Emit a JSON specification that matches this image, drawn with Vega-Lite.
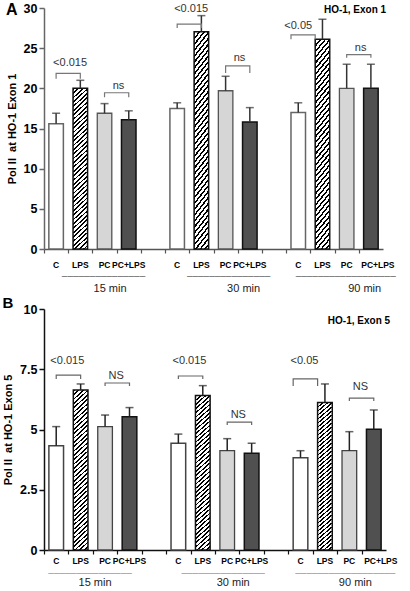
{
"$schema":"https://vega.github.io/schema/vega-lite/v6.json",
"padding":2,
"spacing":3,
"config":{"view":{"stroke":null}},
"datasets":{
"barsA":[
{"key":"15|C","cond":"C","value":15.6,"upper":16.9},
{"key":"15|LPS","cond":"LPS","value":20.0,"upper":21.0},
{"key":"15|PC","cond":"PC","value":16.9,"upper":18.1},
{"key":"15|PC+LPS","cond":"PC+LPS","value":16.1,"upper":17.2},
{"key":"30|C","cond":"C","value":17.5,"upper":18.2},
{"key":"30|LPS","cond":"LPS","value":27.05,"upper":29.05},
{"key":"30|PC","cond":"PC","value":19.7,"upper":21.5},
{"key":"30|PC+LPS","cond":"PC+LPS","value":15.8,"upper":17.6},
{"key":"90|C","cond":"C","value":17.0,"upper":18.2},
{"key":"90|LPS","cond":"LPS","value":26.1,"upper":28.6},
{"key":"90|PC","cond":"PC","value":20.0,"upper":23.0},
{"key":"90|PC+LPS","cond":"PC+LPS","value":20.0,"upper":23.0}
],
"barsB":[
{"key":"15|C","cond":"C","value":4.33,"upper":5.12},
{"key":"15|LPS","cond":"LPS","value":6.64,"upper":6.89},
{"key":"15|PC","cond":"PC","value":5.12,"upper":5.6},
{"key":"15|PC+LPS","cond":"PC+LPS","value":5.53,"upper":5.91},
{"key":"30|C","cond":"C","value":4.43,"upper":4.81},
{"key":"30|LPS","cond":"LPS","value":6.41,"upper":6.82},
{"key":"30|PC","cond":"PC","value":4.12,"upper":4.62},
{"key":"30|PC+LPS","cond":"PC+LPS","value":4.01,"upper":4.43},
{"key":"90|C","cond":"C","value":3.83,"upper":4.12},
{"key":"90|LPS","cond":"LPS","value":6.12,"upper":6.89},
{"key":"90|PC","cond":"PC","value":4.12,"upper":4.91},
{"key":"90|PC+LPS","cond":"PC+LPS","value":5.01,"upper":5.81}
],
"brA":[
{"b":"15s","key":"15|C","value":21.2,"o":1},{"b":"15s","key":"15|C","value":21.85,"o":2},{"b":"15s","key":"15|LPS","value":21.85,"o":3},{"b":"15s","key":"15|LPS","value":21.2,"o":4},
{"b":"15n","key":"15|PC","value":18.9,"o":1},{"b":"15n","key":"15|PC","value":19.45,"o":2},{"b":"15n","key":"15|PC+LPS","value":19.45,"o":3},{"b":"15n","key":"15|PC+LPS","value":18.9,"o":4},
{"b":"30s","key":"30|C","value":27.5,"o":1},{"b":"30s","key":"30|C","value":28.0,"o":2},{"b":"30s","key":"30|LPS","value":28.0,"o":3},{"b":"30s","key":"30|LPS","value":27.5,"o":4},
{"b":"30n","key":"30|PC","value":21.9,"o":1},{"b":"30n","key":"30|PC","value":22.8,"o":2},{"b":"30n","key":"30|PC+LPS","value":22.8,"o":3},{"b":"30n","key":"30|PC+LPS","value":21.9,"o":4},
{"b":"90s","key":"90|C","value":26.1,"o":1},{"b":"90s","key":"90|C","value":26.65,"o":2},{"b":"90s","key":"90|LPS","value":26.65,"o":3},{"b":"90s","key":"90|LPS","value":26.1,"o":4},
{"b":"90n","key":"90|PC","value":23.8,"o":1},{"b":"90n","key":"90|PC","value":24.2,"o":2},{"b":"90n","key":"90|PC+LPS","value":24.2,"o":3},{"b":"90n","key":"90|PC+LPS","value":23.8,"o":4}
],
"brB":[
{"b":"15s","key":"15|C","value":7.1,"o":1},{"b":"15s","key":"15|C","value":7.26,"o":2},{"b":"15s","key":"15|LPS","value":7.26,"o":3},{"b":"15s","key":"15|LPS","value":7.1,"o":4},
{"b":"15n","key":"15|PC","value":6.8,"o":1},{"b":"15n","key":"15|PC","value":6.93,"o":2},{"b":"15n","key":"15|PC+LPS","value":6.93,"o":3},{"b":"15n","key":"15|PC+LPS","value":6.8,"o":4},
{"b":"30s","key":"30|C","value":7.1,"o":1},{"b":"30s","key":"30|C","value":7.22,"o":2},{"b":"30s","key":"30|LPS","value":7.22,"o":3},{"b":"30s","key":"30|LPS","value":7.1,"o":4},
{"b":"30n","key":"30|PC","value":5.19,"o":1},{"b":"30n","key":"30|PC","value":5.31,"o":2},{"b":"30n","key":"30|PC+LPS","value":5.31,"o":3},{"b":"30n","key":"30|PC+LPS","value":5.19,"o":4},
{"b":"90s","key":"90|C","value":6.8,"o":1},{"b":"90s","key":"90|C","value":7.1,"o":2},{"b":"90s","key":"90|LPS","value":7.1,"o":3},{"b":"90s","key":"90|LPS","value":6.8,"o":4},
{"b":"90n","key":"90|PC","value":6.18,"o":1},{"b":"90n","key":"90|PC","value":6.3,"o":2},{"b":"90n","key":"90|PC+LPS","value":6.3,"o":3},{"b":"90n","key":"90|PC+LPS","value":6.18,"o":4}
],
"txtA":[
{"key":"15|LPS","value":23.2,"t":"<0.015"},
{"key":"15|PC+LPS","value":20.3,"t":"ns"},
{"key":"30|LPS","value":29.9,"t":"<0.015"},
{"key":"30|PC+LPS","value":23.8,"t":"ns"},
{"key":"90|C","value":27.8,"t":"<0.05"},
{"key":"90|PC+LPS","value":25.0,"t":"ns"},
{"key":"90|PC+LPS","value":29.75,"t":"HO-1, Exon 1"}
],
"txtB":[
{"key":"15|LPS","value":7.84,"t":"<0.015"},
{"key":"15|PC+LPS","value":7.22,"t":"NS"},
{"key":"30|LPS","value":7.84,"t":"<0.015"},
{"key":"30|PC+LPS","value":5.6,"t":"NS"},
{"key":"90|C","value":7.84,"t":"<0.05"},
{"key":"90|PC+LPS","value":6.76,"t":"NS"},
{"key":"90|PC+LPS","value":9.49,"t":"HO-1, Exon 5"}
]
},
"vconcat":[
{
"width":339,"height":241,
"title":{"text":"A","anchor":"start","fontSize":16,"fontWeight":"bold","color":"#000","offset":-16},
"resolve":{"axis":{"x":"independent"}},
"encoding":{
"x":{"field":"key","type":"nominal","scale":{"domain":["15|C","15|LPS","15|PC","15|PC+LPS","g1","30|C","30|LPS","30|PC","30|PC+LPS","g2","90|C","90|LPS","90|PC","90|PC+LPS"],"paddingInner":0.4,"paddingOuter":0.2},"axis":null},
"y":{"field":"value","type":"quantitative","scale":{"domain":[0,30]},"axis":{"title":"Pol II\u00a0 at HO-1 Exon 1","values":[0,5,10,15,20,25,30],"grid":false,"labelFontWeight":"bold","labelFontSize":12.5,"labelColor":"#000","labelPadding":2,"tickSize":5,"tickColor":"#666","tickWidth":1.5,"domainColor":"#666","domainWidth":1.5,"titleFontSize":11,"titleFontWeight":"bold","titleColor":"#000","titlePadding":6}}
},
"layer":[
{"data":{"name":"barsA"},"transform":[{"filter":"datum.cond=='C'"}],"mark":{"type":"bar","fill":"#fff","stroke":"#666","strokeWidth":1.5},"encoding":{}},
{"data":{"name":"barsA"},"transform":[{"filter":"datum.cond=='LPS'"}],"mark":{"type":"bar","stroke":"#111","strokeWidth":1.5,"fill":{"gradient":"linear","x1":0,"y1":0,"x2":0.0916,"y2":1.077,"stops":[
{"offset":0,"color":"#000"},{"offset":0.01,"color":"#000"},{"offset":0.01,"color":"#fff"},{"offset":0.025,"color":"#fff"},
{"offset":0.025,"color":"#000"},{"offset":0.035,"color":"#000"},{"offset":0.035,"color":"#fff"},{"offset":0.05,"color":"#fff"},
{"offset":0.05,"color":"#000"},{"offset":0.06,"color":"#000"},{"offset":0.06,"color":"#fff"},{"offset":0.075,"color":"#fff"},
{"offset":0.075,"color":"#000"},{"offset":0.085,"color":"#000"},{"offset":0.085,"color":"#fff"},{"offset":0.1,"color":"#fff"},
{"offset":0.1,"color":"#000"},{"offset":0.11,"color":"#000"},{"offset":0.11,"color":"#fff"},{"offset":0.125,"color":"#fff"},
{"offset":0.125,"color":"#000"},{"offset":0.135,"color":"#000"},{"offset":0.135,"color":"#fff"},{"offset":0.15,"color":"#fff"},
{"offset":0.15,"color":"#000"},{"offset":0.16,"color":"#000"},{"offset":0.16,"color":"#fff"},{"offset":0.175,"color":"#fff"},
{"offset":0.175,"color":"#000"},{"offset":0.185,"color":"#000"},{"offset":0.185,"color":"#fff"},{"offset":0.2,"color":"#fff"},
{"offset":0.2,"color":"#000"},{"offset":0.21,"color":"#000"},{"offset":0.21,"color":"#fff"},{"offset":0.225,"color":"#fff"},
{"offset":0.225,"color":"#000"},{"offset":0.235,"color":"#000"},{"offset":0.235,"color":"#fff"},{"offset":0.25,"color":"#fff"},
{"offset":0.25,"color":"#000"},{"offset":0.26,"color":"#000"},{"offset":0.26,"color":"#fff"},{"offset":0.275,"color":"#fff"},
{"offset":0.275,"color":"#000"},{"offset":0.285,"color":"#000"},{"offset":0.285,"color":"#fff"},{"offset":0.3,"color":"#fff"},
{"offset":0.3,"color":"#000"},{"offset":0.31,"color":"#000"},{"offset":0.31,"color":"#fff"},{"offset":0.325,"color":"#fff"},
{"offset":0.325,"color":"#000"},{"offset":0.335,"color":"#000"},{"offset":0.335,"color":"#fff"},{"offset":0.35,"color":"#fff"},
{"offset":0.35,"color":"#000"},{"offset":0.36,"color":"#000"},{"offset":0.36,"color":"#fff"},{"offset":0.375,"color":"#fff"},
{"offset":0.375,"color":"#000"},{"offset":0.385,"color":"#000"},{"offset":0.385,"color":"#fff"},{"offset":0.4,"color":"#fff"},
{"offset":0.4,"color":"#000"},{"offset":0.41,"color":"#000"},{"offset":0.41,"color":"#fff"},{"offset":0.425,"color":"#fff"},
{"offset":0.425,"color":"#000"},{"offset":0.435,"color":"#000"},{"offset":0.435,"color":"#fff"},{"offset":0.45,"color":"#fff"},
{"offset":0.45,"color":"#000"},{"offset":0.46,"color":"#000"},{"offset":0.46,"color":"#fff"},{"offset":0.475,"color":"#fff"},
{"offset":0.475,"color":"#000"},{"offset":0.485,"color":"#000"},{"offset":0.485,"color":"#fff"},{"offset":0.5,"color":"#fff"},
{"offset":0.5,"color":"#000"},{"offset":0.51,"color":"#000"},{"offset":0.51,"color":"#fff"},{"offset":0.525,"color":"#fff"},
{"offset":0.525,"color":"#000"},{"offset":0.535,"color":"#000"},{"offset":0.535,"color":"#fff"},{"offset":0.55,"color":"#fff"},
{"offset":0.55,"color":"#000"},{"offset":0.56,"color":"#000"},{"offset":0.56,"color":"#fff"},{"offset":0.575,"color":"#fff"},
{"offset":0.575,"color":"#000"},{"offset":0.585,"color":"#000"},{"offset":0.585,"color":"#fff"},{"offset":0.6,"color":"#fff"},
{"offset":0.6,"color":"#000"},{"offset":0.61,"color":"#000"},{"offset":0.61,"color":"#fff"},{"offset":0.625,"color":"#fff"},
{"offset":0.625,"color":"#000"},{"offset":0.635,"color":"#000"},{"offset":0.635,"color":"#fff"},{"offset":0.65,"color":"#fff"},
{"offset":0.65,"color":"#000"},{"offset":0.66,"color":"#000"},{"offset":0.66,"color":"#fff"},{"offset":0.675,"color":"#fff"},
{"offset":0.675,"color":"#000"},{"offset":0.685,"color":"#000"},{"offset":0.685,"color":"#fff"},{"offset":0.7,"color":"#fff"},
{"offset":0.7,"color":"#000"},{"offset":0.71,"color":"#000"},{"offset":0.71,"color":"#fff"},{"offset":0.725,"color":"#fff"},
{"offset":0.725,"color":"#000"},{"offset":0.735,"color":"#000"},{"offset":0.735,"color":"#fff"},{"offset":0.75,"color":"#fff"},
{"offset":0.75,"color":"#000"},{"offset":0.76,"color":"#000"},{"offset":0.76,"color":"#fff"},{"offset":0.775,"color":"#fff"},
{"offset":0.775,"color":"#000"},{"offset":0.785,"color":"#000"},{"offset":0.785,"color":"#fff"},{"offset":0.8,"color":"#fff"},
{"offset":0.8,"color":"#000"},{"offset":0.81,"color":"#000"},{"offset":0.81,"color":"#fff"},{"offset":0.825,"color":"#fff"},
{"offset":0.825,"color":"#000"},{"offset":0.835,"color":"#000"},{"offset":0.835,"color":"#fff"},{"offset":0.85,"color":"#fff"},
{"offset":0.85,"color":"#000"},{"offset":0.86,"color":"#000"},{"offset":0.86,"color":"#fff"},{"offset":0.875,"color":"#fff"},
{"offset":0.875,"color":"#000"},{"offset":0.885,"color":"#000"},{"offset":0.885,"color":"#fff"},{"offset":0.9,"color":"#fff"},
{"offset":0.9,"color":"#000"},{"offset":0.91,"color":"#000"},{"offset":0.91,"color":"#fff"},{"offset":0.925,"color":"#fff"},
{"offset":0.925,"color":"#000"},{"offset":0.935,"color":"#000"},{"offset":0.935,"color":"#fff"},{"offset":0.95,"color":"#fff"},
{"offset":0.95,"color":"#000"},{"offset":0.96,"color":"#000"},{"offset":0.96,"color":"#fff"},{"offset":0.975,"color":"#fff"},
{"offset":0.975,"color":"#000"},{"offset":0.985,"color":"#000"},{"offset":0.985,"color":"#fff"},{"offset":1,"color":"#fff"}
]}},"encoding":{}},
{"data":{"name":"barsA"},"transform":[{"filter":"datum.cond=='PC'"}],"mark":{"type":"bar","fill":"#d6d6d6","stroke":"#555","strokeWidth":1.3},"encoding":{}},
{"data":{"name":"barsA"},"transform":[{"filter":"datum.cond=='PC+LPS'"}],"mark":{"type":"bar","fill":"#505050","stroke":"#111","strokeWidth":1.5},"encoding":{}},
{"data":{"name":"barsA"},"mark":{"type":"rule","color":"#333","strokeWidth":1.5},"encoding":{"y2":{"field":"upper"}}},
{"data":{"name":"barsA"},"mark":{"type":"tick","color":"#333","thickness":1.5,"size":8},"encoding":{"y":{"field":"upper","type":"quantitative","scale":{"domain":[0,30]},"axis":{"title":"Pol II\u00a0 at HO-1 Exon 1","values":[0,5,10,15,20,25,30],"grid":false,"labelFontWeight":"bold","labelFontSize":12.5,"labelColor":"#000","labelPadding":2,"tickSize":5,"tickColor":"#666","tickWidth":1.5,"domainColor":"#666","domainWidth":1.5,"titleFontSize":11,"titleFontWeight":"bold","titleColor":"#000","titlePadding":6}}}},
{"data":{"name":"brA"},"transform":[{"filter":"datum.b!='90s'"}],"mark":{"type":"line","color":"#777","strokeWidth":1.2},"encoding":{"detail":{"field":"b"},"order":{"field":"o","type":"quantitative"}}},
{"data":{"name":"brA"},"transform":[{"filter":"datum.b=='90s'"}],"mark":{"type":"line","color":"#777","strokeWidth":1.2},"encoding":{"x":{"field":"key","type":"nominal","bandPosition":0,"scale":{"domain":["15|C","15|LPS","15|PC","15|PC+LPS","g1","30|C","30|LPS","30|PC","30|PC+LPS","g2","90|C","90|LPS","90|PC","90|PC+LPS"],"paddingInner":0.4,"paddingOuter":0.2},"axis":null},"detail":{"field":"b"},"order":{"field":"o","type":"quantitative"}}},
{"data":{"name":"txtA"},"transform":[{"filter":"datum.key!='90|C' && datum.t!='HO-1, Exon 1'"}],"mark":{"type":"text","fontSize":11,"color":"#333","baseline":"middle","dx":-3},"encoding":{"x":{"field":"key","type":"nominal","bandPosition":0,"scale":{"domain":["15|C","15|LPS","15|PC","15|PC+LPS","g1","30|C","30|LPS","30|PC","30|PC+LPS","g2","90|C","90|LPS","90|PC","90|PC+LPS"],"paddingInner":0.4,"paddingOuter":0.2},"axis":null},"text":{"field":"t"}}},
{"data":{"name":"txtA"},"transform":[{"filter":"datum.key=='90|C'"}],"mark":{"type":"text","fontSize":11,"color":"#333","baseline":"middle"},"encoding":{"text":{"field":"t"}}},
{"data":{"name":"txtA"},"transform":[{"filter":"datum.t=='HO-1, Exon 1'"}],"mark":{"type":"text","fontSize":10,"fontWeight":"bold","color":"#000","baseline":"middle","align":"right","dx":8},"encoding":{"x":{"field":"key","type":"nominal","bandPosition":1,"scale":{"domain":["15|C","15|LPS","15|PC","15|PC+LPS","g1","30|C","30|LPS","30|PC","30|PC+LPS","g2","90|C","90|LPS","90|PC","90|PC+LPS"],"paddingInner":0.4,"paddingOuter":0.2},"axis":null},"text":{"field":"t"}}},
{"data":{"name":"barsA"},"mark":{"type":"point","opacity":0},"encoding":{"x":{"field":"key","type":"nominal","scale":{"domain":["15|C","15|LPS","15|PC","15|PC+LPS","g1","30|C","30|LPS","30|PC","30|PC+LPS","g2","90|C","90|LPS","90|PC","90|PC+LPS"],"paddingInner":0.4,"paddingOuter":0.2},"axis":{"orient":"bottom","title":null,"labels":false,"domain":false,"ticks":true,"tickOffset":-12.1,"tickSize":4,"tickColor":"#555","tickWidth":1.2}}}},
{"data":{"name":"barsA"},"mark":{"type":"point","opacity":0},"encoding":{"x":{"field":"key","type":"nominal","scale":{"domain":["15|C","15|LPS","15|PC","15|PC+LPS","g1","30|C","30|LPS","30|PC","30|PC+LPS","g2","90|C","90|LPS","90|PC","90|PC+LPS"],"paddingInner":0.4,"paddingOuter":0.2},"axis":{"orient":"bottom","title":null,"ticks":false,"tickSize":0,"labelExpr":"indexof(datum.value,'|')>0 ? substring(datum.value, indexof(datum.value,'|')+1) : ''","labelAngle":0,"labelFontSize":8.5,"labelFontWeight":"bold","labelColor":"#000","labelPadding":11,"labelOverlap":false,"labelOffset":{"condition":{"test":"datum.value=='90|PC+LPS'","value":7},"value":0},"domainColor":"#555","domainWidth":1.5}}}},
{"data":{"name":"barsA"},"mark":{"type":"point","opacity":0},"encoding":{"x":{"field":"key","type":"nominal","scale":{"domain":["15|C","15|LPS","15|PC","15|PC+LPS","g1","30|C","30|LPS","30|PC","30|PC+LPS","g2","90|C","90|LPS","90|PC","90|PC+LPS"],"paddingInner":0.4,"paddingOuter":0.2},"axis":{"orient":"bottom","title":null,"ticks":false,"tickSize":0,"domain":false,"offset":21,"labelPadding":0,"labelAngle":0,"labelOverlap":false,"labelFontSize":10,"labelColor":"#666","labelExpr":"datum.value=='90|PC' ? '––––––––––––––––––' : (datum.value=='15|PC' || datum.value=='30|PC') ? '–––––––––––––––' : ''","labelOffset":{"condition":{"test":"datum.value=='30|PC'","value":3},"value":-1}}}}},
{"data":{"name":"barsA"},"mark":{"type":"point","opacity":0},"encoding":{"x":{"field":"key","type":"nominal","scale":{"domain":["15|C","15|LPS","15|PC","15|PC+LPS","g1","30|C","30|LPS","30|PC","30|PC+LPS","g2","90|C","90|LPS","90|PC","90|PC+LPS"],"paddingInner":0.4,"paddingOuter":0.2},"axis":{"orient":"bottom","title":null,"ticks":false,"tickSize":0,"domain":false,"offset":33,"labelPadding":0,"labelAngle":0,"labelOverlap":false,"labelFontSize":11,"labelColor":"#222","labelExpr":"datum.value=='15|PC' ? '15 min' : datum.value=='30|PC' ? '30 min' : datum.value=='90|PC' ? '90 min' : ''","labelOffset":{"condition":{"test":"datum.value=='15|PC'","value":5.5},"value":18}}}}}
]
},
{
"width":342,"height":241,
"title":{"text":"B","anchor":"start","fontSize":15,"fontWeight":"bold","color":"#000","offset":-8},
"resolve":{"axis":{"x":"independent"}},
"encoding":{
"x":{"field":"key","type":"nominal","scale":{"domain":["15|C","15|LPS","15|PC","15|PC+LPS","g1","30|C","30|LPS","30|PC","30|PC+LPS","g2","90|C","90|LPS","90|PC","90|PC+LPS"],"paddingInner":0.4,"paddingOuter":0.2},"axis":null},
"y":{"field":"value","type":"quantitative","scale":{"domain":[0,10]},"axis":{"title":"Pol II\u00a0 at HO-1 Exon 5","values":[0,2.5,5,7.5,10],"format":".1~f","grid":false,"labelFontWeight":"bold","labelFontSize":12.5,"labelColor":"#000","labelPadding":2,"tickSize":5,"tickColor":"#111","tickWidth":1.5,"domainColor":"#111","domainWidth":1.5,"titleFontSize":11,"titleFontWeight":"bold","titleColor":"#000","titlePadding":6}}
},
"layer":[
{"data":{"name":"barsB"},"transform":[{"filter":"datum.cond=='C'"}],"mark":{"type":"bar","fill":"#fff","stroke":"#444","strokeWidth":1.5},"encoding":{}},
{"data":{"name":"barsB"},"transform":[{"filter":"datum.cond=='LPS'"}],"mark":{"type":"bar","stroke":"#111","strokeWidth":1.5,"fill":{"gradient":"linear","x1":0,"y1":0,"x2":0.0916,"y2":1.077,"stops":[
{"offset":0,"color":"#000"},{"offset":0.01,"color":"#000"},{"offset":0.01,"color":"#fff"},{"offset":0.025,"color":"#fff"},
{"offset":0.025,"color":"#000"},{"offset":0.035,"color":"#000"},{"offset":0.035,"color":"#fff"},{"offset":0.05,"color":"#fff"},
{"offset":0.05,"color":"#000"},{"offset":0.06,"color":"#000"},{"offset":0.06,"color":"#fff"},{"offset":0.075,"color":"#fff"},
{"offset":0.075,"color":"#000"},{"offset":0.085,"color":"#000"},{"offset":0.085,"color":"#fff"},{"offset":0.1,"color":"#fff"},
{"offset":0.1,"color":"#000"},{"offset":0.11,"color":"#000"},{"offset":0.11,"color":"#fff"},{"offset":0.125,"color":"#fff"},
{"offset":0.125,"color":"#000"},{"offset":0.135,"color":"#000"},{"offset":0.135,"color":"#fff"},{"offset":0.15,"color":"#fff"},
{"offset":0.15,"color":"#000"},{"offset":0.16,"color":"#000"},{"offset":0.16,"color":"#fff"},{"offset":0.175,"color":"#fff"},
{"offset":0.175,"color":"#000"},{"offset":0.185,"color":"#000"},{"offset":0.185,"color":"#fff"},{"offset":0.2,"color":"#fff"},
{"offset":0.2,"color":"#000"},{"offset":0.21,"color":"#000"},{"offset":0.21,"color":"#fff"},{"offset":0.225,"color":"#fff"},
{"offset":0.225,"color":"#000"},{"offset":0.235,"color":"#000"},{"offset":0.235,"color":"#fff"},{"offset":0.25,"color":"#fff"},
{"offset":0.25,"color":"#000"},{"offset":0.26,"color":"#000"},{"offset":0.26,"color":"#fff"},{"offset":0.275,"color":"#fff"},
{"offset":0.275,"color":"#000"},{"offset":0.285,"color":"#000"},{"offset":0.285,"color":"#fff"},{"offset":0.3,"color":"#fff"},
{"offset":0.3,"color":"#000"},{"offset":0.31,"color":"#000"},{"offset":0.31,"color":"#fff"},{"offset":0.325,"color":"#fff"},
{"offset":0.325,"color":"#000"},{"offset":0.335,"color":"#000"},{"offset":0.335,"color":"#fff"},{"offset":0.35,"color":"#fff"},
{"offset":0.35,"color":"#000"},{"offset":0.36,"color":"#000"},{"offset":0.36,"color":"#fff"},{"offset":0.375,"color":"#fff"},
{"offset":0.375,"color":"#000"},{"offset":0.385,"color":"#000"},{"offset":0.385,"color":"#fff"},{"offset":0.4,"color":"#fff"},
{"offset":0.4,"color":"#000"},{"offset":0.41,"color":"#000"},{"offset":0.41,"color":"#fff"},{"offset":0.425,"color":"#fff"},
{"offset":0.425,"color":"#000"},{"offset":0.435,"color":"#000"},{"offset":0.435,"color":"#fff"},{"offset":0.45,"color":"#fff"},
{"offset":0.45,"color":"#000"},{"offset":0.46,"color":"#000"},{"offset":0.46,"color":"#fff"},{"offset":0.475,"color":"#fff"},
{"offset":0.475,"color":"#000"},{"offset":0.485,"color":"#000"},{"offset":0.485,"color":"#fff"},{"offset":0.5,"color":"#fff"},
{"offset":0.5,"color":"#000"},{"offset":0.51,"color":"#000"},{"offset":0.51,"color":"#fff"},{"offset":0.525,"color":"#fff"},
{"offset":0.525,"color":"#000"},{"offset":0.535,"color":"#000"},{"offset":0.535,"color":"#fff"},{"offset":0.55,"color":"#fff"},
{"offset":0.55,"color":"#000"},{"offset":0.56,"color":"#000"},{"offset":0.56,"color":"#fff"},{"offset":0.575,"color":"#fff"},
{"offset":0.575,"color":"#000"},{"offset":0.585,"color":"#000"},{"offset":0.585,"color":"#fff"},{"offset":0.6,"color":"#fff"},
{"offset":0.6,"color":"#000"},{"offset":0.61,"color":"#000"},{"offset":0.61,"color":"#fff"},{"offset":0.625,"color":"#fff"},
{"offset":0.625,"color":"#000"},{"offset":0.635,"color":"#000"},{"offset":0.635,"color":"#fff"},{"offset":0.65,"color":"#fff"},
{"offset":0.65,"color":"#000"},{"offset":0.66,"color":"#000"},{"offset":0.66,"color":"#fff"},{"offset":0.675,"color":"#fff"},
{"offset":0.675,"color":"#000"},{"offset":0.685,"color":"#000"},{"offset":0.685,"color":"#fff"},{"offset":0.7,"color":"#fff"},
{"offset":0.7,"color":"#000"},{"offset":0.71,"color":"#000"},{"offset":0.71,"color":"#fff"},{"offset":0.725,"color":"#fff"},
{"offset":0.725,"color":"#000"},{"offset":0.735,"color":"#000"},{"offset":0.735,"color":"#fff"},{"offset":0.75,"color":"#fff"},
{"offset":0.75,"color":"#000"},{"offset":0.76,"color":"#000"},{"offset":0.76,"color":"#fff"},{"offset":0.775,"color":"#fff"},
{"offset":0.775,"color":"#000"},{"offset":0.785,"color":"#000"},{"offset":0.785,"color":"#fff"},{"offset":0.8,"color":"#fff"},
{"offset":0.8,"color":"#000"},{"offset":0.81,"color":"#000"},{"offset":0.81,"color":"#fff"},{"offset":0.825,"color":"#fff"},
{"offset":0.825,"color":"#000"},{"offset":0.835,"color":"#000"},{"offset":0.835,"color":"#fff"},{"offset":0.85,"color":"#fff"},
{"offset":0.85,"color":"#000"},{"offset":0.86,"color":"#000"},{"offset":0.86,"color":"#fff"},{"offset":0.875,"color":"#fff"},
{"offset":0.875,"color":"#000"},{"offset":0.885,"color":"#000"},{"offset":0.885,"color":"#fff"},{"offset":0.9,"color":"#fff"},
{"offset":0.9,"color":"#000"},{"offset":0.91,"color":"#000"},{"offset":0.91,"color":"#fff"},{"offset":0.925,"color":"#fff"},
{"offset":0.925,"color":"#000"},{"offset":0.935,"color":"#000"},{"offset":0.935,"color":"#fff"},{"offset":0.95,"color":"#fff"},
{"offset":0.95,"color":"#000"},{"offset":0.96,"color":"#000"},{"offset":0.96,"color":"#fff"},{"offset":0.975,"color":"#fff"},
{"offset":0.975,"color":"#000"},{"offset":0.985,"color":"#000"},{"offset":0.985,"color":"#fff"},{"offset":1,"color":"#fff"}
]}},"encoding":{}},
{"data":{"name":"barsB"},"transform":[{"filter":"datum.cond=='PC'"}],"mark":{"type":"bar","fill":"#d6d6d6","stroke":"#444","strokeWidth":1.3},"encoding":{}},
{"data":{"name":"barsB"},"transform":[{"filter":"datum.cond=='PC+LPS'"}],"mark":{"type":"bar","fill":"#505050","stroke":"#111","strokeWidth":1.5},"encoding":{}},
{"data":{"name":"barsB"},"mark":{"type":"rule","color":"#222","strokeWidth":1.5},"encoding":{"y2":{"field":"upper"}}},
{"data":{"name":"barsB"},"mark":{"type":"tick","color":"#222","thickness":1.5,"size":8},"encoding":{"y":{"field":"upper","type":"quantitative","scale":{"domain":[0,10]},"axis":{"title":"Pol II\u00a0 at HO-1 Exon 5","values":[0,2.5,5,7.5,10],"format":".1~f","grid":false,"labelFontWeight":"bold","labelFontSize":12.5,"labelColor":"#000","labelPadding":2,"tickSize":5,"tickColor":"#111","tickWidth":1.5,"domainColor":"#111","domainWidth":1.5,"titleFontSize":11,"titleFontWeight":"bold","titleColor":"#000","titlePadding":6}}}},
{"data":{"name":"brB"},"transform":[{"filter":"datum.b!='90s'"}],"mark":{"type":"line","color":"#666","strokeWidth":1.2},"encoding":{"detail":{"field":"b"},"order":{"field":"o","type":"quantitative"}}},
{"data":{"name":"brB"},"transform":[{"filter":"datum.b=='90s'"}],"mark":{"type":"line","color":"#666","strokeWidth":1.2},"encoding":{"x":{"field":"key","type":"nominal","bandPosition":0,"scale":{"domain":["15|C","15|LPS","15|PC","15|PC+LPS","g1","30|C","30|LPS","30|PC","30|PC+LPS","g2","90|C","90|LPS","90|PC","90|PC+LPS"],"paddingInner":0.4,"paddingOuter":0.2},"axis":null},"detail":{"field":"b"},"order":{"field":"o","type":"quantitative"}}},
{"data":{"name":"txtB"},"transform":[{"filter":"datum.key!='90|C' && datum.t!='HO-1, Exon 5'"}],"mark":{"type":"text","fontSize":11,"color":"#333","baseline":"middle","dx":-6},"encoding":{"x":{"field":"key","type":"nominal","bandPosition":0,"scale":{"domain":["15|C","15|LPS","15|PC","15|PC+LPS","g1","30|C","30|LPS","30|PC","30|PC+LPS","g2","90|C","90|LPS","90|PC","90|PC+LPS"],"paddingInner":0.4,"paddingOuter":0.2},"axis":null},"text":{"field":"t"}}},
{"data":{"name":"txtB"},"transform":[{"filter":"datum.key=='90|C'"}],"mark":{"type":"text","fontSize":11,"color":"#333","baseline":"middle","dx":4},"encoding":{"text":{"field":"t"}}},
{"data":{"name":"txtB"},"transform":[{"filter":"datum.t=='HO-1, Exon 5'"}],"mark":{"type":"text","fontSize":10,"fontWeight":"bold","color":"#000","baseline":"middle","align":"right","dx":9},"encoding":{"x":{"field":"key","type":"nominal","bandPosition":1,"scale":{"domain":["15|C","15|LPS","15|PC","15|PC+LPS","g1","30|C","30|LPS","30|PC","30|PC+LPS","g2","90|C","90|LPS","90|PC","90|PC+LPS"],"paddingInner":0.4,"paddingOuter":0.2},"axis":null},"text":{"field":"t"}}},
{"data":{"name":"barsB"},"mark":{"type":"point","opacity":0},"encoding":{"x":{"field":"key","type":"nominal","scale":{"domain":["15|C","15|LPS","15|PC","15|PC+LPS","g1","30|C","30|LPS","30|PC","30|PC+LPS","g2","90|C","90|LPS","90|PC","90|PC+LPS"],"paddingInner":0.4,"paddingOuter":0.2},"axis":{"orient":"bottom","title":null,"labels":false,"domain":false,"ticks":true,"tickOffset":-12.2,"tickSize":4,"tickColor":"#111","tickWidth":1.2}}}},
{"data":{"name":"barsB"},"mark":{"type":"point","opacity":0},"encoding":{"x":{"field":"key","type":"nominal","scale":{"domain":["15|C","15|LPS","15|PC","15|PC+LPS","g1","30|C","30|LPS","30|PC","30|PC+LPS","g2","90|C","90|LPS","90|PC","90|PC+LPS"],"paddingInner":0.4,"paddingOuter":0.2},"axis":{"orient":"bottom","title":null,"ticks":false,"tickSize":0,"labelExpr":"indexof(datum.value,'|')>0 ? substring(datum.value, indexof(datum.value,'|')+1) : ''","labelAngle":0,"labelFontSize":8.5,"labelFontWeight":"bold","labelColor":"#000","labelPadding":6,"labelOverlap":false,"labelOffset":{"condition":{"test":"datum.value=='90|PC+LPS'","value":7},"value":0},"domainColor":"#111","domainWidth":1.5}}}},
{"data":{"name":"barsB"},"mark":{"type":"point","opacity":0},"encoding":{"x":{"field":"key","type":"nominal","scale":{"domain":["15|C","15|LPS","15|PC","15|PC+LPS","g1","30|C","30|LPS","30|PC","30|PC+LPS","g2","90|C","90|LPS","90|PC","90|PC+LPS"],"paddingInner":0.4,"paddingOuter":0.2},"axis":{"orient":"bottom","title":null,"ticks":false,"tickSize":0,"domain":false,"offset":17,"labelPadding":0,"labelAngle":0,"labelOverlap":false,"labelFontSize":10,"labelColor":"#999","labelExpr":"datum.value=='90|PC' ? '––––––––––––––––––' : (datum.value=='15|PC' || datum.value=='30|PC') ? '–––––––––––––––' : ''","labelOffset":{"condition":{"test":"datum.value=='15|PC'","value":-15},"value":-4}}}}},
{"data":{"name":"barsB"},"mark":{"type":"point","opacity":0},"encoding":{"x":{"field":"key","type":"nominal","scale":{"domain":["15|C","15|LPS","15|PC","15|PC+LPS","g1","30|C","30|LPS","30|PC","30|PC+LPS","g2","90|C","90|LPS","90|PC","90|PC+LPS"],"paddingInner":0.4,"paddingOuter":0.2},"axis":{"orient":"bottom","title":null,"ticks":false,"tickSize":0,"domain":false,"offset":26,"labelPadding":0,"labelAngle":0,"labelOverlap":false,"labelFontSize":11,"labelColor":"#222","labelExpr":"datum.value=='15|PC' ? '15 min' : datum.value=='30|PC' ? '30 min' : datum.value=='90|PC' ? '90 min' : ''","labelOffset":{"condition":{"test":"datum.value=='15|PC'","value":-10},"value":6}}}}}
]
}
]
}
